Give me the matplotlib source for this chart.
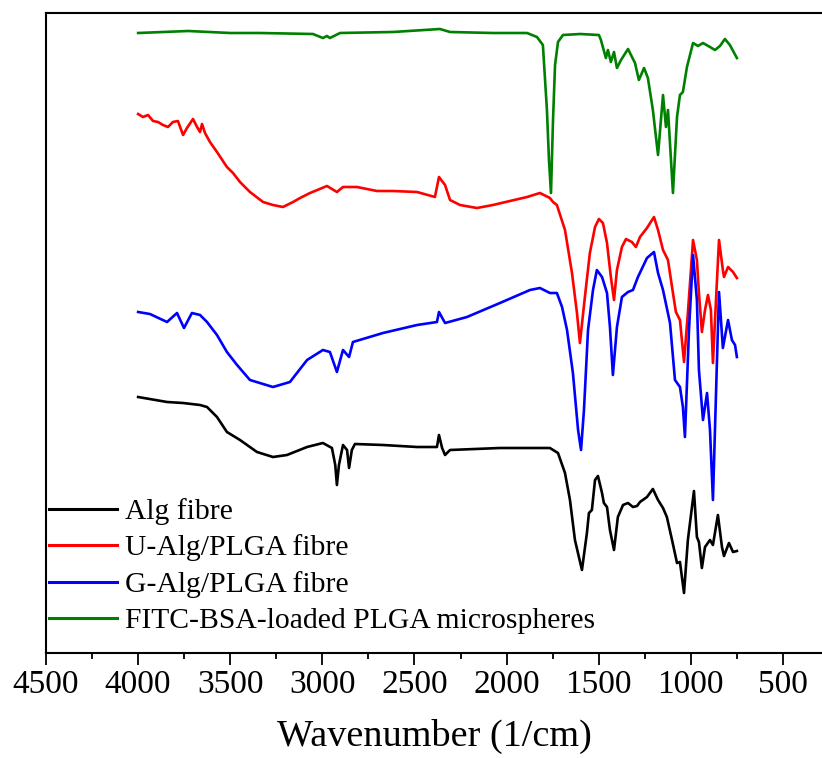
import matplotlib
matplotlib.use("Agg")
import matplotlib.pyplot as plt
from matplotlib.ticker import MultipleLocator

# ---- data (wavenumber in 1/cm, transmittance in arbitrary offset units) ----
alg_wn = [4000, 3843, 3756, 3664, 3626, 3572, 3518, 3447, 3355, 3268, 3192, 3083, 2997,
          2948, 2930, 2921, 2910, 2888, 2866, 2855, 2840, 2823, 2671, 2486, 2378, 2367,
          2350, 2334, 2307, 2036, 1765, 1721, 1683, 1656, 1629, 1591, 1564, 1553, 1537,
          1520, 1504, 1482, 1472, 1455, 1439, 1417, 1396, 1368, 1341, 1314, 1292, 1276,
          1238, 1206, 1178, 1151, 1130, 1102, 1075, 1059, 1037, 1016, 983, 967, 956, 940,
          923, 896, 880, 853, 831, 820, 793, 771, 750]
alg_t = [256, 251, 250, 248, 246, 236, 221, 213, 201, 196, 198, 206, 210,
         205, 188, 168, 188, 208, 203, 185, 203, 209, 208, 206, 206, 218,
         205, 198, 203, 205, 205, 200, 180, 153, 113, 83, 120, 140, 143,
         173, 177, 160, 150, 146, 123, 103, 136, 148, 150, 146, 147, 151,
         156, 164, 153, 145, 136, 113, 90, 91, 60, 113, 162, 116, 111, 85,
         106, 113, 108, 138, 106, 97, 110, 101, 102]

ualg_wn = [4000, 3974, 3946, 3919, 3892, 3865, 3838, 3811, 3784, 3756, 3735, 3702, 3680,
           3664, 3653, 3637, 3610, 3572, 3518, 3485, 3447, 3393, 3322, 3268, 3214, 3159,
           3121, 3067, 2975, 2921, 2888, 2812, 2704, 2617, 2486, 2389, 2367, 2334, 2307,
           2253, 2161, 2074, 1982, 1889, 1819, 1765, 1748, 1727, 1683, 1645, 1618, 1602,
           1575, 1548, 1520, 1499, 1477, 1455, 1434, 1417, 1401, 1374, 1352, 1320, 1298,
           1276, 1238, 1200, 1178, 1151, 1124, 1102, 1081, 1059, 1037, 1016, 988, 967,
           956, 940, 923, 907, 891, 880, 858, 847, 826, 820, 798, 771, 750]
ualg_t = [539, 536, 538, 532, 531, 528, 526, 531, 532, 518, 525, 534, 526,
          521, 529, 520, 511, 501, 486, 480, 471, 461, 451, 448, 446, 451,
          455, 460, 467, 461, 466, 466, 462, 462, 461, 456, 476, 468, 453,
          448, 445, 448, 452, 456, 460, 455, 451, 448, 423, 380, 340, 310,
          356, 400, 426, 434, 430, 410, 376, 353, 383, 406, 414, 411, 406,
          416, 425, 436, 423, 403, 393, 366, 341, 333, 291, 340, 413, 393,
          360, 321, 343, 358, 343, 290, 373, 413, 383, 376, 386, 381, 375]

galg_wn = [4000, 3936, 3843, 3789, 3751, 3708, 3664, 3626, 3572, 3518, 3463, 3393, 3268,
           3176, 3083, 2997, 2959, 2921, 2888, 2855, 2834, 2671, 2486, 2378, 2367, 2334,
           2215, 2036, 1873, 1819, 1765, 1727, 1699, 1672, 1640, 1612, 1596, 1580, 1558,
           1531, 1510, 1482, 1455, 1439, 1423, 1401, 1374, 1341, 1314, 1287, 1238, 1200,
           1178, 1151, 1113, 1086, 1059, 1043, 1032, 1010, 988, 967, 956, 934, 912, 896,
           880, 858, 847, 826, 798, 777, 760, 750]
galg_t = [341, 339, 331, 340, 325, 340, 338, 331, 318, 301, 288, 273, 266,
          271, 293, 303, 301, 281, 303, 296, 311, 320, 328, 331, 341, 330,
          336, 350, 363, 365, 360, 360, 346, 323, 280, 223, 203, 243, 323,
          363, 383, 376, 360, 326, 278, 326, 356, 361, 363, 376, 395, 401,
          380, 363, 330, 273, 266, 246, 216, 323, 398, 353, 283, 233, 260, 223,
          153, 293, 361, 305, 333, 313, 308, 296]

fitc_wn = [4000, 3729, 3500, 3339, 3051, 2997, 2975, 2959, 2904, 2617, 2362, 2307, 2074,
           1889, 1835, 1803, 1781, 1770, 1759, 1748, 1737, 1721, 1694, 1600, 1499, 1488,
           1461, 1450, 1434, 1417, 1401, 1379, 1341, 1303, 1282, 1254, 1233, 1206, 1178,
           1151, 1135, 1124, 1119, 1097, 1075, 1059, 1043, 1021, 988, 961, 934, 896, 869,
           842, 815, 788, 750]
fitc_t = [620, 622, 620, 620, 619, 615, 617, 615, 620, 621, 624, 621, 620,
          620, 616, 608, 543, 493, 460, 533, 588, 611, 618, 619, 618, 613,
          595, 603, 591, 601, 585, 593, 604, 590, 573, 585, 575, 543, 498,
          558, 526, 543, 528, 460, 536, 558, 561, 586, 610, 607, 610, 606, 603,
          607, 614, 608, 595]

labels = ["Alg fibre", "U-Alg/PLGA fibre", "G-Alg/PLGA fibre",
          "FITC-BSA-loaded PLGA microspheres"]
colors = ["#000000", "#FF0000", "#0000FF", "#008000"]
xticks = [4500, 4000, 3500, 3000, 2500, 2000, 1500, 1000, 500]

plt.rcParams['font.family'] = ['Liberation Serif', 'DejaVu Serif']

fig = plt.figure(figsize=(8.22, 7.58), dpi=100)
ax = fig.add_axes([46 / 822, 105 / 758, 776 / 822, 640 / 758])

series = [(alg_wn, alg_t), (ualg_wn, ualg_t), (galg_wn, galg_t), (fitc_wn, fitc_t)]
for (wn, t), lab, c in zip(series, labels, colors):
    ax.plot(wn, t, color=c, lw=1.9, label=lab, solid_joinstyle='round')

ax.set_xlim(4500, 288)
ax.set_ylim(0, 640)
ax.set_xticks(xticks)
ax.xaxis.set_minor_locator(MultipleLocator(250))
ax.set_yticks([])
ax.spines['right'].set_visible(False)
for s in ['left', 'top', 'bottom']:
    ax.spines[s].set_linewidth(1.5)
ax.tick_params(axis='x', which='major', direction='out', length=8.6, width=1.3,
               labelsize=24, pad=3)
ax.tick_params(axis='x', which='minor', direction='out', length=4.3, width=1.3)
ax.set_xlabel("Wavenumber (1/cm)", fontsize=27.5, labelpad=14)

leg = ax.legend(loc='lower left', bbox_to_anchor=(0.0, 0.025), frameon=False,
                fontsize=21.3, handlelength=2.3, handletextpad=0.27,
                labelspacing=0.32, borderaxespad=0.0, borderpad=0.1)
for h in leg.get_lines():
    h.set_linewidth(2.2)

fig.savefig("out.png", dpi=100)
